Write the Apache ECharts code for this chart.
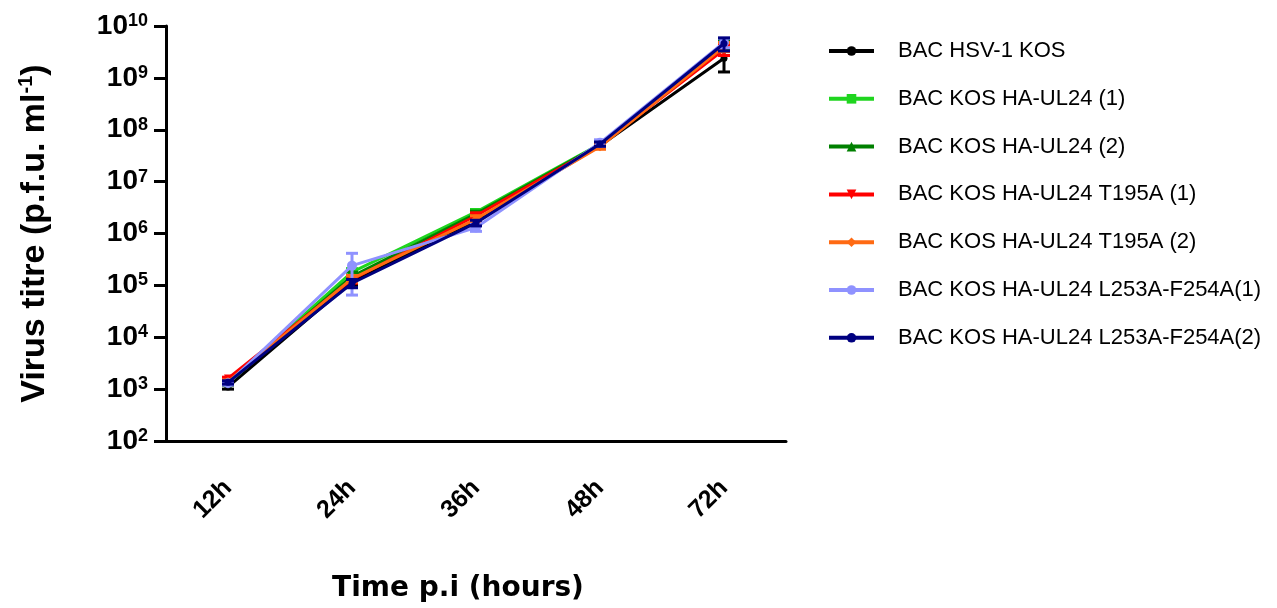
<!DOCTYPE html>
<html><head><meta charset="utf-8">
<script src="https://cdn.jsdelivr.net/npm/echarts@6/dist/echarts.min.js"></script>
<style>html,body{margin:0;padding:0;background:#fff}#c{width:1277px;height:608px}</style>
</head><body><div id="c"></div>
<script>
const categories = ['12h','24h','36h','48h','72h'];
const seriesNames = ['BAC HSV-1 KOS','BAC KOS HA-UL24 (1)','BAC KOS HA-UL24 (2)','BAC KOS HA-UL24 T195A (1)','BAC KOS HA-UL24 T195A (2)','BAC KOS HA-UL24 L253A-F254A(1)','BAC KOS HA-UL24 L253A-F254A(2)'];
const kos      = [1.1e3, 1.2e5, 1.8e6, 4.9e7, 2.4e9];
const ul24_1   = [1.35e3, 1.8e5, 2.6e6, 5.3e7, 4.5e9];
const ul24_2   = [1.3e3, 1.5e5, 2.4e6, 5.2e7, 4.3e9];
const t195a_1  = [1.6e3, 1.3e5, 2.2e6, 5.0e7, 3.5e9];
const t195a_2  = [1.4e3, 1.35e5, 1.9e6, 4.7e7, 4.0e9];
const l253_1   = [1.3e3, 2.4e5, 1.3e6, 5.6e7, 4.8e9];
const l253_2   = [1.35e3, 1.1e5, 1.6e6, 5.3e7, 4.6e9];
const kosErr     = [1e2, 2e4, 3e5, 5e6, 1.1e9];
const ul24_1Err  = [1e2, 3e4, 3e5, 5e6, 8e8];
const ul24_2Err  = [1e2, 3e4, 3e5, 5e6, 8e8];
const t195a_1Err = [1e2, 2e4, 3e5, 5e6, 8e8];
const t195a_2Err = [1e2, 2e4, 3e5, 5e6, 8e8];
const l253_1Err  = [1e2, 1.75e5, 2e5, 8e6, 1e9];
const l253_2Err  = [1e2, 2e4, 2e5, 5e6, 1.3e9];

const values = [kos, ul24_1, ul24_2, t195a_1, t195a_2, l253_1, l253_2];
const errs = [kosErr, ul24_1Err, ul24_2Err, t195a_1Err, t195a_2Err, l253_1Err, l253_2Err];
const colors = ['#000000','#1fd51f','#008000','#ff0000','#ff6a13','#8f92ff','#000080'];
const symbols = ['circle','rect','triangle','path://M0,0 L10,0 L5,10 Z','diamond','circle','circle'];
const symbolSizes = [7,8,8,8,9,10,7];

const series = [];
values.forEach((v, i) => {
  series.push({
    name: seriesNames[i], type: 'line', data: v,
    symbol: symbols[i], symbolSize: symbolSizes[i],
    lineStyle: {width: 3, color: colors[i]},
    itemStyle: {color: colors[i]},
    z: 3 + i
  });
  series.push({
    name: seriesNames[i], type: 'custom', z: 3 + i,
    data: v.map((m, j) => [j, Math.max(m - errs[i][j], 1), m + errs[i][j]]),
    renderItem: function (params, api) {
      const lo = api.coord([api.value(0), api.value(1)]);
      const hi = api.coord([api.value(0), api.value(2)]);
      const hw = 6;
      const st = {stroke: colors[i], lineWidth: 3};
      return {type: 'group', children: [
        {type: 'line', shape: {x1: lo[0], y1: lo[1], x2: hi[0], y2: hi[1]}, style: st},
        {type: 'line', shape: {x1: hi[0]-hw, y1: hi[1], x2: hi[0]+hw, y2: hi[1]}, style: st},
        {type: 'line', shape: {x1: lo[0]-hw, y1: lo[1], x2: lo[0]+hw, y2: lo[1]}, style: st}
      ]};
    },
    tooltip: {show: false}
  });
});

const AR = 'Liberation Sans, Arial, sans-serif';
const chart = echarts.init(document.getElementById('c'), null, {renderer: 'canvas'});
chart.setOption({
  animation: false,
  backgroundColor: '#ffffff',
  grid: {left: 166, right: 491, top: 26, bottom: 167, containLabel: false, outerBoundsMode: 'none'},
  legend: {
    orient: 'vertical', left: 827, top: 40, padding: 0, itemWidth: 45, itemHeight: 12, itemGap: 25.8,
    data: seriesNames,
    lineStyle: {width: 4},
    textStyle: {fontFamily: AR, fontSize: 22, lineHeight: 22, color: '#000', padding: [0,0,0,19]}
  },
  xAxis: {
    type: 'category', data: categories,
    axisLine: {lineStyle: {color: '#000', width: 3}},
    axisTick: {alignWithLabel: true, length: 12, lineStyle: {width: 3, color: '#000'}},
    axisLabel: {rotate: 45, margin: 43, color: '#000', fontFamily: AR, fontWeight: 'bold', fontSize: 25},
    name: 'Time p.i (hours)', nameLocation: 'middle', nameGap: 134,
    nameTextStyle: {fontFamily: 'DejaVu Sans', fontWeight: 'bold', fontSize: 28, color: '#000', padding: [0, 36, 0, 0]}
  },
  yAxis: {
    type: 'log', logBase: 10, min: 1e2, max: 1e10,
    splitLine: {show: false}, minorTick: {show: false},
    axisLine: {show: true, lineStyle: {color: '#000', width: 3}},
    axisTick: {show: true, length: 12, lineStyle: {width: 3, color: '#000'}},
    axisLabel: {
      margin: 18, color: '#000',
      formatter: function (val) {
        const e = Math.round(Math.log10(val));
        return '{b|10}{s|' + e + '}';
      },
      rich: {
        b: {fontFamily: AR, fontWeight: 'bold', fontSize: 28, color: '#000', lineHeight: 28},
        s: {fontFamily: AR, fontWeight: 'bold', fontSize: 18, color: '#000', verticalAlign: 'top', lineHeight: 20}
      }
    },
    name: 'Virus titre (p.f.u. ml{s|-1})', nameLocation: 'middle', nameGap: 112, nameRotate: 90,
    nameTextStyle: {
      fontFamily: AR, fontWeight: 'bold', fontSize: 34, color: '#000', lineHeight: 38,
      rich: {
        s: {fontFamily: AR, fontWeight: 'bold', fontSize: 20, color: '#000', verticalAlign: 'top', lineHeight: 24}
      }
    }
  },
  series: series
});
</script></body></html>
